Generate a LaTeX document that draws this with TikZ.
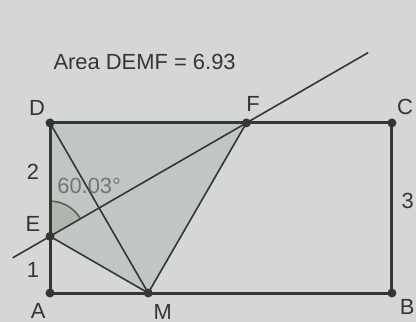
\documentclass[tikz,border=0pt]{standalone}
\usepackage{fontspec}
\setmainfont{Liberation Sans}
\usetikzlibrary{calc}
\definecolor{paper}{RGB}{212,215,212}
\definecolor{shadegray}{RGB}{194,198,194}
\definecolor{arcgray}{RGB}{176,181,176}
\definecolor{ink}{RGB}{52,54,52}
\tikzset{
  edge/.style   = {draw=ink, line width=1.5pt},
  thin/.style   = {draw=ink, line width=0.8pt},
  pt/.style     = {circle, fill=ink, inner sep=0pt, minimum size=4.5pt},
  lab/.style    = {font=\fontsize{11}{13}\selectfont, text=ink, inner sep=1pt},
  anglab/.style = {font=\fontsize{11}{13}\selectfont, text=black!55, inner sep=1pt},
}

\begin{document}
\begin{tikzpicture}[x=1cm, y=1cm]
  \fill[paper] (-0.882,-0.511) rectangle (6.455,5.168);
  \useasboundingbox (-0.882,-0.511) rectangle (6.455,5.168);

  \coordinate (A) at (0,0);
  \coordinate (B) at (6.03,0);
  \coordinate (C) at (6.03,3);
  \coordinate (D) at (0,3);
  \coordinate (E) at (0,1);
  \coordinate (M) at (1.732,0);
  \coordinate (F) at (3.464,3);
  \coordinate (lo) at ($(E)!-0.19!(F)$);
  \coordinate (hi) at ($(E)!1.62!(F)$);

  % shaded quadrilateral and angle sector
  \fill[shadegray] (D) -- (E) -- (M) -- (F) -- cycle;
  \fill[arcgray] (E) -- ++(90:0.62) arc (90:30:0.62) -- cycle;
  \draw[thin, draw=ink!80] ($(E)+(90:0.62)$) arc (90:30:0.62);

  \draw[thin] (D) -- (M);
  \draw[thin] (E) -- (M) -- (F);
  \draw[thin] (lo) -- (hi);
  \draw[edge] (A) -- (B) -- (C) -- (D) -- cycle;

  \foreach \p in {A,B,C,D,E,M,F}
    \node[pt] at (\p) {};

  \node[lab] at (-0.23,3.26) {D};
  \node[lab] at (3.58,3.33) {F};
  \node[lab] at (6.26,3.28) {C};
  \node[lab] at (-0.30,2.13) {2};
  \node[lab] at (-0.30,1.22) {E};
  \node[lab] at (-0.30,0.41) {1};
  \node[lab] at (-0.21,-0.32) {A};
  \node[lab] at (1.99,-0.33) {M};
  \node[lab] at (6.30,-0.25) {B};
  \node[lab] at (6.31,1.62) {3};
  \node[anglab] at (0.69,1.89) {60.03°};
  \node[lab, anchor=west] at (0.02,4.07) {Area DEMF = 6.93};
\end{tikzpicture}
\end{document}
